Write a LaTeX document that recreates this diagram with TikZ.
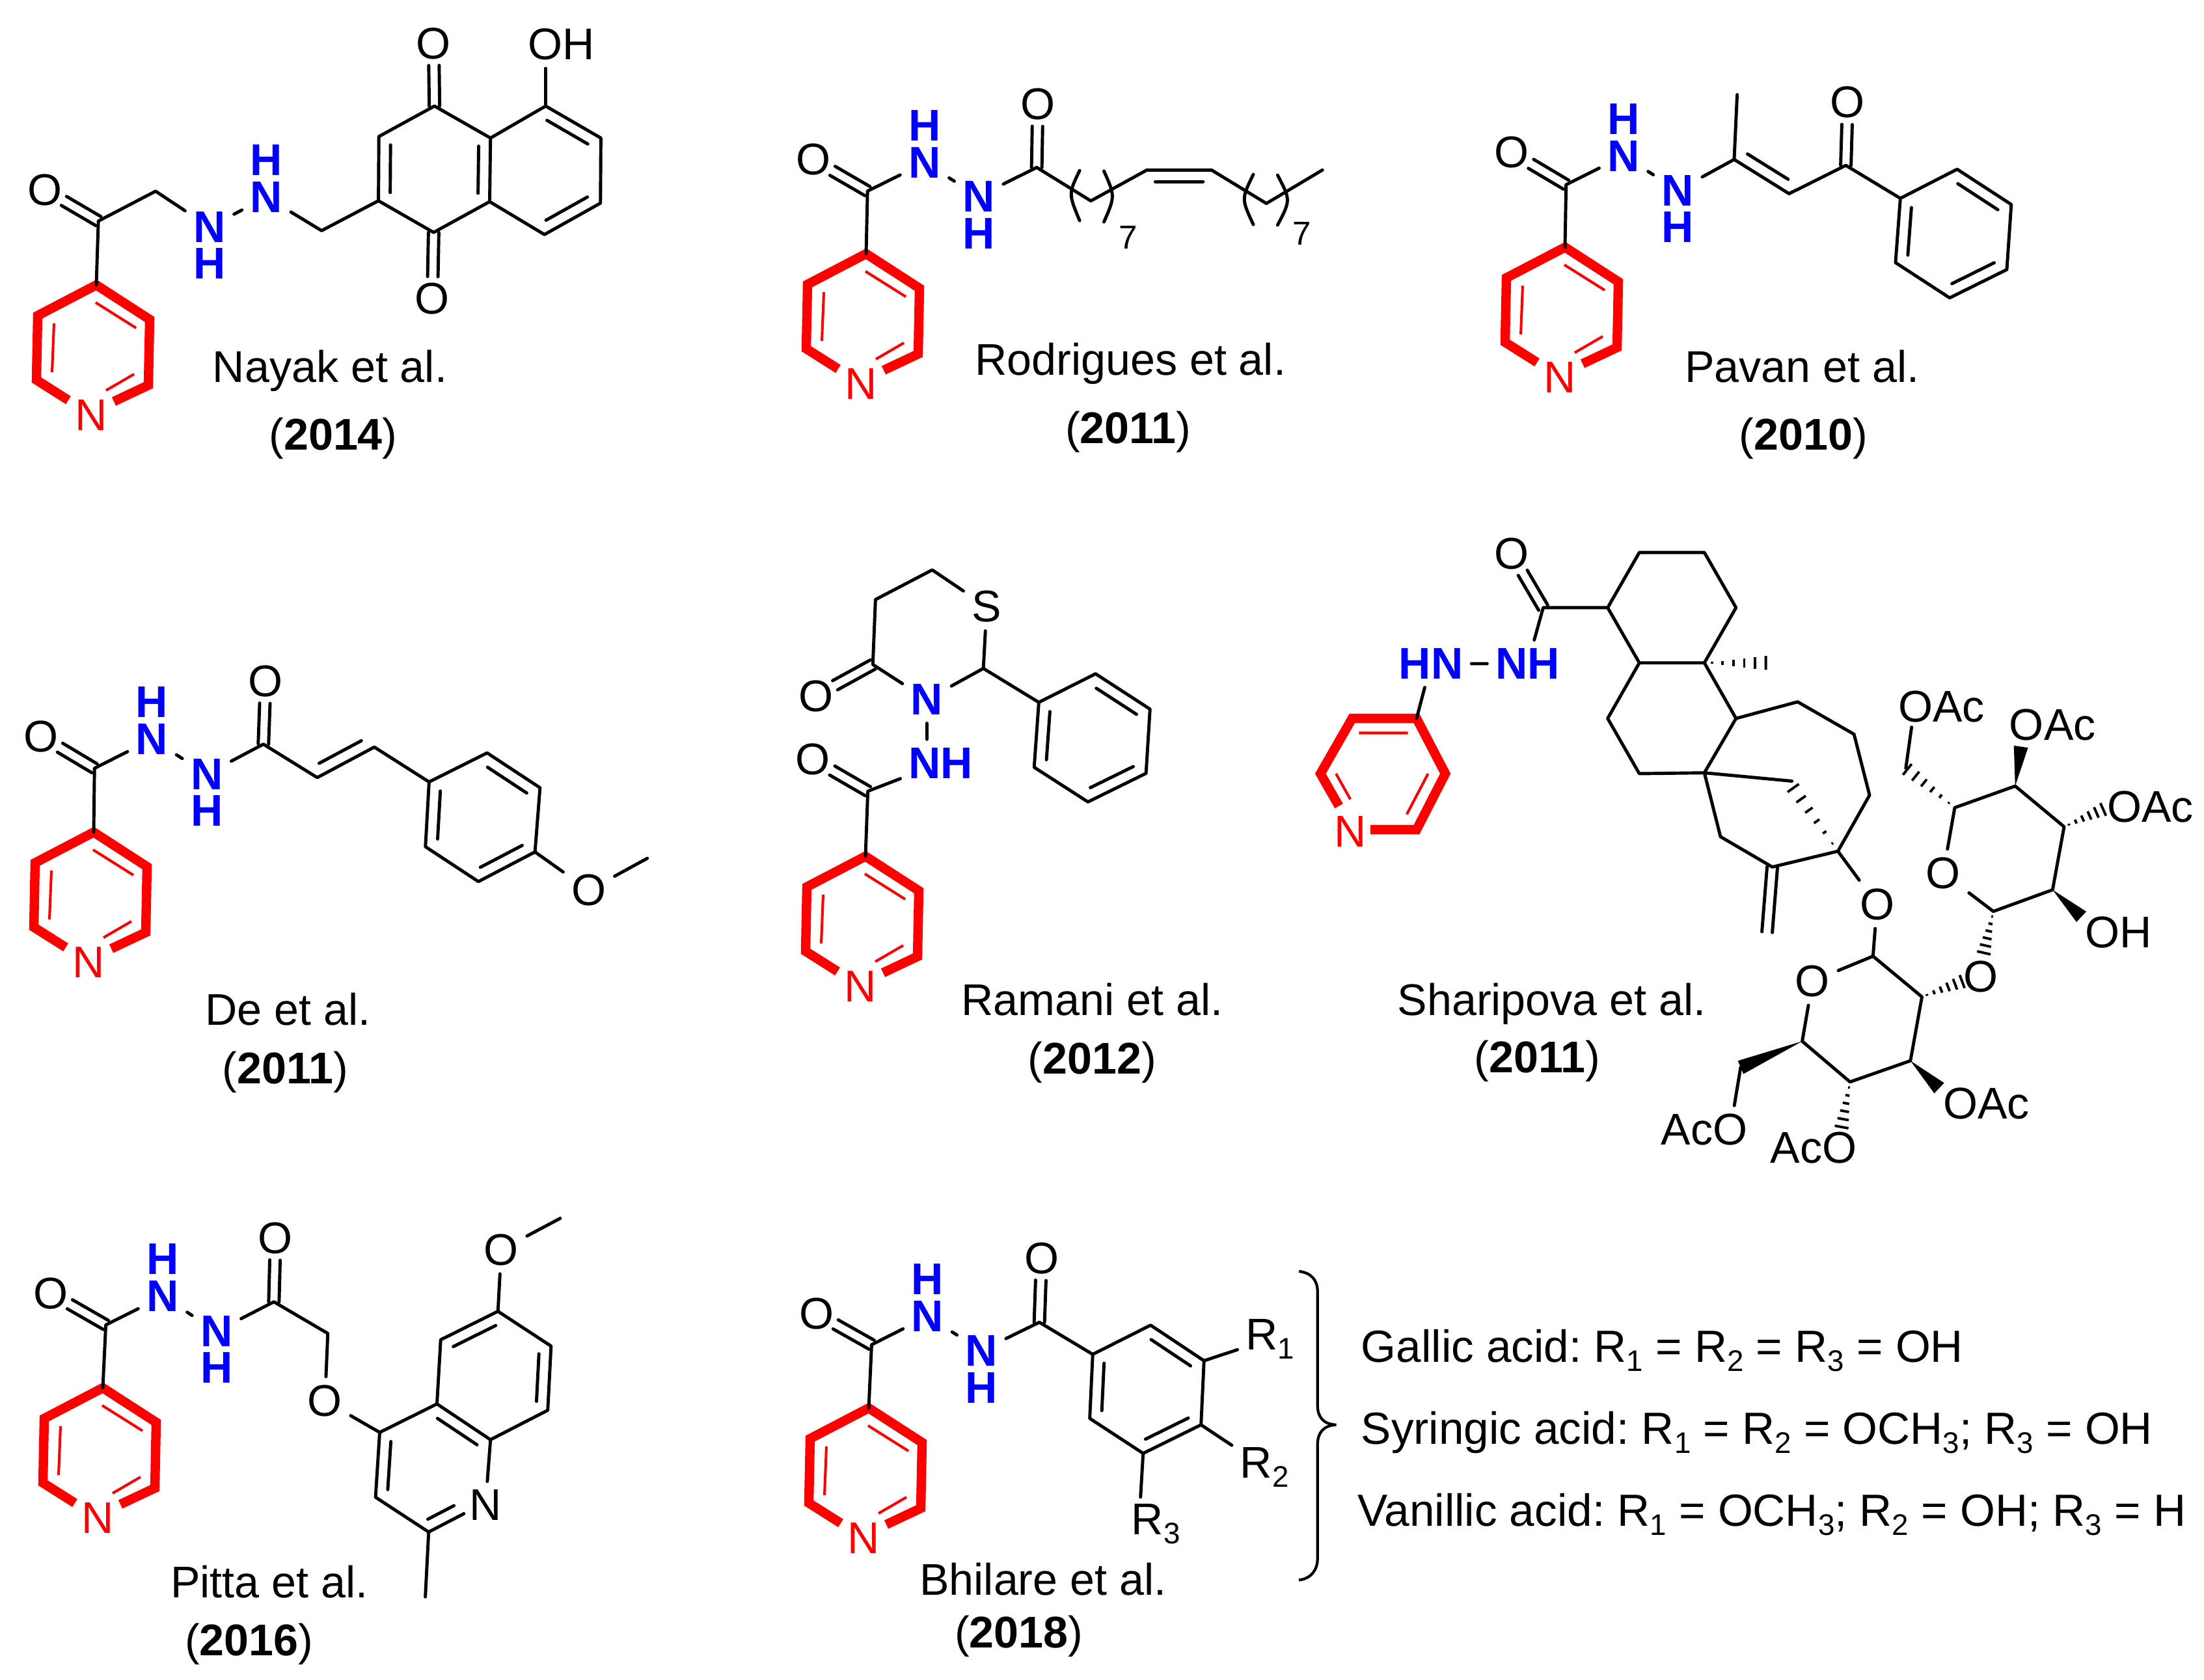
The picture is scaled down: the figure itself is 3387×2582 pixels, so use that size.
\documentclass[tikz,border=0pt]{standalone}
\usepackage{fontspec}
\setmainfont{Liberation Sans}
\usetikzlibrary{calc}

\definecolor{hnblue}{RGB}{0,0,255}
\tikzset{
	crop/.style n args={4}{shift={(#1,#2)},x={#3/1568*.01cm},y={-#4/1568*.01cm}},
	bond/.style={line width=1.4pt,line cap=round,line join=round},
	hatch/.style={line width=1.1pt},
	brace/.style={line width=1.2pt},
	pyrthick/.style={draw=red,line width=4.1pt,line join=miter},
	pyrthin/.style={draw=red,line width=1.15pt},
	oxo/.style={shorten >=.34cm},
	atom/.style={inner sep=3.5pt,font=\fontsize{19.4}{21}\selectfont},
	hn/.style={atom,inner ysep=.8pt,text=hnblue,font=\fontsize{19.4}{21}\selectfont\bfseries},
	ringn/.style={atom,text=red},
	cite/.style={anchor=base,inner sep=0pt,font=\frenchspacing\fontsize{19.4}{21}\selectfont},
	repeats/.style={inner sep=0pt,font=\fontsize{14.5}{16}\selectfont},
	acid/.style={anchor=base west,inner sep=0pt,font=\frenchspacing\fontsize{19.7}{21}\selectfont}
}
\newcommand\sbs[1]{\raisebox{-4pt}{\fontsize{13}{14}\selectfont #1}}
\newcommand\dbond[3][]{\draw[bond,#1] ($(#2)!.08cm!90:(#3)$) -- ($(#3)!.08cm!-90:(#2)$);
	\draw[bond,#1] ($(#2)!.08cm!-90:(#3)$) -- ($(#3)!.08cm!90:(#2)$);}
\newcommand\ibond[3]{\draw[bond] ($($(#1)!.13!(#2)$)!.18cm!#3:(#2)$) -- ($($(#2)!.13!(#1)$)!.18cm!-#3:(#1)$);}
\newcommand\wedgebond[2]{\fill ($(#2)!.11cm!90:(#1)$) -- (#1) -- ($(#2)!.11cm!-90:(#1)$) -- cycle;}
\newcommand\hashbond[2]{\foreach \t in {.12,.29,.46,.63,.8,.97}{\pgfmathsetmacro\hw{\t*.11}
	\coordinate (hc) at ($(#1)!\t!(#2)$);
	\draw[hatch] ($(hc)!\hw cm!90:(#2)$) -- ($(hc)!\hw cm!-90:(#2)$);}}
\newcommand\pyridine[2]{\begin{scope}[shift={(#2)}]
	\coordinate (#1) at (0,0);
	\coordinate (#1a) at (-90,47);
	\coordinate (#1b) at (-92,146);
	\coordinate (#1c) at (80,154);
	\coordinate (#1d) at (82,53);
	\coordinate (#1e) at (-43,177);
	\coordinate (#1f) at (27,179);
	\node[ringn] (#1N) at (-8,200) {N};
	\draw[pyrthick] (#1e) -- (#1b) -- (#1a) -- (#1) -- (#1d) -- (#1c) -- (#1f);
	\draw[pyrthin] (-1,27) -- (61,66) (-65,59) -- (-68,134) (15,162) -- (58,137);
\end{scope}}

\begin{document}
\begin{tikzpicture}[x=.01cm,y=-.01cm]
	\useasboundingbox (0,0) rectangle (3387,2582);

	\pyridine{aPy}{148,438}
	\begin{scope}[crop={0}{0}{1000}{720}]
		\node[atom] (aO1) at (108,635) {O};
		\node[atom] (aO2) at (1045,145) {O};
		\node[atom] (aO3) at (1042,1000) {O};
		\node[atom] (aOH) at (1352,148) {OH};
		\node[hn] (aN1) at (505,760) {N};
		\node[hn,inner sep=0pt] (aH1) at (505,882) {H};
		\node[hn] (aN2) at (642,660) {N};
		\node[hn,inner sep=0pt] (aH2) at (642,536) {H};
		\coordinate (aCa) at (237,740);
		\coordinate (aCb) at (375,640);
		\coordinate (aCc) at (775,772);
		\coordinate (aC1) at (912,672);
		\coordinate (aC2) at (913,457);
		\coordinate (aC3) at (1047,355);
		\coordinate (aC4) at (1182,462);
		\coordinate (aC5) at (1180,675);
		\coordinate (aC6) at (1045,778);
		\coordinate (aC7) at (1315,355);
		\coordinate (aC8) at (1448,462);
		\coordinate (aC9) at (1447,680);
		\coordinate (aC10) at (1312,785);
		\draw[bond] (aPy) -- (aCa) -- (aCb) -- (aN1) -- (aN2) -- (aCc) -- (aC1) -- (aC2) -- (aC3) -- (aC4) -- (aC5) -- (aC6) -- (aC1);
		\draw[bond] (aC4) -- (aC7) -- (aC8) -- (aC9) -- (aC10) -- (aC5);
		\draw[bond] (aC7) -- (aC7 |- aOH.south);
		\dbond[oxo]{aCa}{aO1}
		\dbond[oxo]{aC3}{aO2}
		\dbond[oxo]{aC6}{aO3}
		\ibond{aC1}{aC2}{-90}
		\ibond{aC5}{aC4}{90}
		\ibond{aC7}{aC8}{-90}
		\ibond{aC9}{aC10}{-90}
		\node[cite] (aRef) at (795,1280) {Nayak et al.};
		\node[cite] (aYear) at (803,1505) {(\textbf{2014})};
	\end{scope}

	\pyridine{bPy}{1331,390}
	\begin{scope}[crop={1200}{100}{900}{620}]
		\node[atom] (bO1) at (87,368) {O};
		\node[atom] (bO2) at (688,152) {O};
		\node[hn] (bN1) at (385,380) {N};
		\node[hn,inner sep=0pt] (bH1) at (385,235) {H};
		\node[hn] (bN2) at (530,510) {N};
		\node[hn,inner sep=0pt] (bH2) at (530,655) {H};
		\coordinate (bCa) at (232,490);
		\coordinate (bCb) at (685,398);
		\coordinate (bC1) at (830,528);
		\coordinate (bC2) at (980,408);
		\coordinate (bC3) at (1153,408);
		\coordinate (bC4) at (1300,538);
		\coordinate (bC5) at (1450,408);
		\draw[bond] (bPy) -- (bCa) -- (bN1) -- (bN2) -- (bCb) -- (bC1) -- (bC2) -- (bC3) -- (bC4) -- (bC5);
		\dbond[oxo]{bCa}{bO1}
		\dbond[oxo]{bCb}{bO2}
		\ibond{bC2}{bC3}{-90}
		\draw[bond] (800,410) .. controls (770,500) .. (800,605);
		\draw[bond] (865,412) .. controls (895,510) .. (865,610);
		\draw[bond] (1265,425) .. controls (1233,520) .. (1265,620);
		\draw[bond] (1330,428) .. controls (1365,525) .. (1330,622);
		\node[repeats] (bRep1) at (930,670) {7};
		\node[repeats] (bRep2) at (1395,655) {7};
		\node[cite] (bRef) at (936,1205) {Rodrigues et al.};
		\node[cite] (bYear) at (930,1470) {(\textbf{2011})};
	\end{scope}

	\pyridine{cPy}{2405,380}
	\begin{scope}[crop={2250}{100}{900}{620}]
		\node[atom] (cO1) at (128,340) {O};
		\node[atom] (cO2) at (1027,145) {O};
		\node[hn] (cN1) at (427,353) {N};
		\node[hn,inner sep=0pt] (cH1) at (427,209) {H};
		\node[hn] (cN2) at (572,487) {N};
		\node[hn,inner sep=0pt] (cH2) at (572,631) {H};
		\coordinate (cCa) at (273,465);
		\coordinate (cCb) at (723,367);
		\coordinate (cMe) at (731,115);
		\coordinate (cCc) at (870,500);
		\coordinate (cCd) at (1022,390);
		\coordinate (cP1) at (1168,518);
		\coordinate (cP2) at (1320,405);
		\coordinate (cP3) at (1465,542);
		\coordinate (cP4) at (1453,795);
		\coordinate (cP5) at (1300,905);
		\coordinate (cP6) at (1155,768);
		\draw[bond] (cPy) -- (cCa) -- (cN1) -- (cN2) -- (cCb) -- (cCc) -- (cCd) -- (cP1) -- (cP2) -- (cP3) -- (cP4) -- (cP5) -- (cP6) -- (cP1);
		\draw[bond] (cCb) -- (cMe);
		\dbond[oxo]{cCa}{cO1}
		\dbond[oxo]{cCd}{cO2}
		\ibond{cCb}{cCc}{90}
		\ibond{cP2}{cP3}{-90}
		\ibond{cP4}{cP5}{-90}
		\ibond{cP6}{cP1}{-90}
		\node[cite] (cRef) at (905,1233) {Pavan et al.};
		\node[cite] (cYear) at (908,1497) {(\textbf{2010})};
	\end{scope}

	\pyridine{dPy}{144,1279}
	\begin{scope}[crop={0}{1000}{1100}{700}]
		\node[atom] (dO1) at (90,295) {O};
		\node[atom] (dO2) at (582,105) {O};
		\node[atom] (dO3) at (1290,825) {O};
		\node[hn] (dN1) at (333,305) {N};
		\node[hn,inner sep=0pt] (dH1) at (333,178) {H};
		\node[hn] (dN2) at (453,425) {N};
		\node[hn,inner sep=0pt] (dH2) at (453,552) {H};
		\coordinate (dCa) at (207,405);
		\coordinate (dCb) at (577,322);
		\coordinate (dCc) at (695,437);
		\coordinate (dCd) at (820,332);
		\coordinate (dP1) at (940,452);
		\coordinate (dP2) at (1067,352);
		\coordinate (dP3) at (1183,472);
		\coordinate (dP4) at (1172,693);
		\coordinate (dP5) at (1048,795);
		\coordinate (dP6) at (932,675);
		\coordinate (dMe) at (1418,715);
		\draw[bond] (dPy) -- (dCa) -- (dN1) -- (dN2) -- (dCb) -- (dCc) -- (dCd) -- (dP1) -- (dP2) -- (dP3) -- (dP4) -- (dP5) -- (dP6) -- (dP1);
		\draw[bond] (dP4) -- (dO3) -- (dMe);
		\dbond[oxo]{dCa}{dO1}
		\dbond[oxo]{dCb}{dO2}
		\ibond{dCc}{dCd}{90}
		\ibond{dP2}{dP3}{-90}
		\ibond{dP4}{dP5}{-90}
		\ibond{dP6}{dP1}{-90}
		\node[cite] (dRef) at (631,1290) {De et al.};
		\node[cite] (dYear) at (625,1490) {(\textbf{2011})};
	\end{scope}

	\pyridine{ePy}{1330,1316}
	\begin{scope}[crop={1200}{820}{800}{860}]
		\node[atom] (eO1) at (105,455) {O};
		\node[atom] (eO2) at (97,633) {O};
		\node[atom] (eS) at (620,205) {S};
		\node[hn,inner ysep=3.5pt] (eN) at (440,465) {N};
		\node[hn,inner ysep=3.5pt] (eNH) at (482,643) {NH};
		\coordinate (eR1) at (277,367);
		\coordinate (eR2) at (285,185);
		\coordinate (eR3) at (456,102);
		\coordinate (eR5) at (610,378);
		\coordinate (eCa) at (262,722);
		\coordinate (eP1) at (777,473);
		\coordinate (eP2) at (948,393);
		\coordinate (eP3) at (1112,492);
		\coordinate (eP4) at (1100,672);
		\coordinate (eP5) at (925,752);
		\coordinate (eP6) at (763,655);
		\draw[bond] (eN) -- (eR1) -- (eR2) -- (eR3) -- (eS) -- (eR5) -- (eN);
		\draw[bond] (eR5) -- (eP1) -- (eP2) -- (eP3) -- (eP4) -- (eP5) -- (eP6) -- (eP1);
		\draw[bond] (eN) -- (eN |- eNH.north);
		\draw[bond] (eNH) -- (eCa) -- (ePy);
		\dbond[oxo]{eR1}{eO1}
		\dbond[oxo]{eCa}{eO2}
		\ibond{eP2}{eP3}{-90}
		\ibond{eP4}{eP5}{-90}
		\ibond{eP6}{eP1}{-90}
		\node[cite] (eRef) at (938,1350) {Ramani et al.};
		\node[cite] (eYear) at (938,1515) {(\textbf{2012})};
	\end{scope}

	\begin{scope}[crop={2000}{800}{1387}{1000}]
		\coordinate (fPa) at (88,477);
		\coordinate (fPb) at (200,477);
		\coordinate (fPc) at (250,610);
		\coordinate (fPd) at (200,745);
		\coordinate (fPe) at (120,745);
		\coordinate (fPf) at (33,610);
		\coordinate (fPg) at (65,688);
		\node[ringn] (fPN) at (85,750) {N};
		\draw[pyrthick] (fPg) -- (fPf) -- (fPa) -- (fPb) -- (fPc) -- (fPd) -- (fPe);
		\draw[pyrthin] (100,512) -- (185,512) (220,610) -- (183,708) (60,610) -- (85,672);
		\node[hn,inner ysep=3.5pt] (fHN) at (225,345) {HN};
		\node[hn,inner ysep=3.5pt] (fNH) at (393,345) {NH};
		\node[atom] (fO1) at (365,80) {O};
		\coordinate (fCa) at (420,210);
		\coordinate (fC1) at (532,210);
		\coordinate (fC2) at (587,77);
		\coordinate (fC3) at (700,77);
		\coordinate (fC4) at (755,210);
		\coordinate (fC5) at (700,343);
		\coordinate (fC6) at (587,343);
		\coordinate (fC7) at (532,477);
		\coordinate (fC8) at (587,610);
		\coordinate (fC9) at (700,608);
		\coordinate (fC10) at (755,477);
		\coordinate (fC11) at (862,437);
		\coordinate (fC12) at (960,515);
		\coordinate (fC13) at (987,662);
		\coordinate (fC14) at (932,797);
		\coordinate (fC15) at (818,835);
		\coordinate (fC16) at (728,762);
		\coordinate (fC17) at (852,628);
		\coordinate (fC17e) at (852,640);
		\coordinate (fMe) at (810,343);
		\coordinate (fCH) at (809,992);
		\draw[bond] (fPb) -- (fHN) -- (fNH) -- (fCa) -- (fC1) -- (fC2) -- (fC3) -- (fC4) -- (fC5) -- (fC6) -- (fC1);
		\draw[bond] (fC6) -- (fC7) -- (fC8) -- (fC9) -- (fC10) -- (fC5);
		\draw[bond] (fC10) -- (fC11) -- (fC12) -- (fC13) -- (fC14) -- (fC15) -- (fC16) -- (fC9) -- (fC17);
		\dbond[oxo]{fCa}{fO1}
		\dbond{fC15}{fCH}
		\hashbond{fC5}{fMe}
		\hashbond{fC14}{fC17e}
		\node[atom] (fO2) at (1000,925) {O};
		\node[atom] (fRO1) at (888,1110) {O};
		\node[atom] (fO3) at (1180,1100) {O};
		\node[atom] (fRO2) at (1115,850) {O};
		\coordinate (fG1) at (993,1050);
		\coordinate (fG2) at (870,1255);
		\coordinate (fG3) at (953,1353);
		\coordinate (fG4) at (1058,1302);
		\coordinate (fG5) at (1078,1148);
		\coordinate (fG6) at (763,1318);
		\coordinate (fH1) at (1202,942);
		\coordinate (fH2) at (1135,692);
		\coordinate (fH3) at (1240,640);
		\coordinate (fH4) at (1325,738);
		\coordinate (fH5) at (1305,890);
		\coordinate (fH6) at (1050,597);
		\draw[bond] (fC14) -- (fO2) -- (fG1) -- (fRO1) -- (fG2) -- (fG3) -- (fG4) -- (fG5) -- (fG1);
		\draw[bond] (fH1) -- (fRO2) -- (fH2) -- (fH3) -- (fH4) -- (fH5) -- (fH1);
		\node[atom,inner sep=0pt] (fAc1) at (700,1468) {AcO};
		\node[atom,inner sep=0pt] (fAc2) at (890,1512) {AcO};
		\node[atom,inner sep=0pt] (fAc3) at (1190,1405) {OAc};
		\node[atom,inner sep=0pt] (fAc4) at (1112,448) {OAc};
		\node[atom,inner sep=0pt] (fAc5) at (1305,492) {OAc};
		\node[atom,inner sep=0pt] (fAc6) at (1475,690) {OAc};
		\node[atom,inner sep=0pt] (fOH) at (1420,993) {OH};
		\coordinate (fG6e) at (752,1410);
		\coordinate (fG3e) at (938,1465);
		\coordinate (fG4e) at (1108,1368);
		\coordinate (fG5e) at (1150,1110);
		\coordinate (fH1e) at (1185,1045);
		\coordinate (fH3e) at (1250,545);
		\coordinate (fH4e) at (1395,695);
		\coordinate (fH5e) at (1355,955);
		\coordinate (fH6e) at (1060,498);
		\wedgebond{fG2}{fG6}
		\draw[bond] (fG6) -- (fG6e);
		\draw[bond] (fH6) -- (fH6e);
		\hashbond{fG3}{fG3e}
		\wedgebond{fG4}{fG4e}
		\hashbond{fG5}{fG5e}
		\hashbond{fH1}{fH1e}
		\hashbond{fH2}{fH6}
		\wedgebond{fH3}{fH3e}
		\hashbond{fH4}{fH4e}
		\wedgebond{fH5}{fH5e}
		\node[cite] (fRef) at (435,1192) {Sharipova et al.};
		\node[cite] (fYear) at (410,1330) {(\textbf{2011})};
	\end{scope}

	\pyridine{gPy}{158,2133}
	\begin{scope}[crop={0}{1820}{1000}{762}]
		\node[atom] (gO1) at (122,345) {O};
		\node[atom] (gO2) at (664,170) {O};
		\node[atom] (gO3) at (783,685) {O};
		\node[atom] (gO4) at (1208,207) {O};
		\node[atom] (gQN) at (1170,1015) {N};
		\node[hn] (gN1) at (392,355) {N};
		\node[hn,inner sep=0pt] (gH1) at (392,237) {H};
		\node[hn] (gN2) at (522,465) {N};
		\node[hn,inner sep=0pt] (gH2) at (522,580) {H};
		\coordinate (gCa) at (255,445);
		\coordinate (gCb) at (660,372);
		\coordinate (gCc) at (790,472);
		\coordinate (gQ1) at (915,785);
		\coordinate (gQ2) at (1053,695);
		\coordinate (gQ3) at (1062,492);
		\coordinate (gQ4) at (1200,402);
		\coordinate (gQ5) at (1328,512);
		\coordinate (gQ6) at (1320,715);
		\coordinate (gQ7) at (1182,808);
		\coordinate (gQ8) at (1033,1100);
		\coordinate (gQ9) at (905,990);
		\coordinate (gQe) at (1118,1042);
		\coordinate (gMe1) at (1350,108);
		\coordinate (gMe2) at (1025,1305);
		\draw[bond] (gPy) -- (gCa) -- (gN1) -- (gN2) -- (gCb) -- (gCc) -- (gO3) -- (gQ1) -- (gQ2) -- (gQ3) -- (gQ4) -- (gQ5) -- (gQ6) -- (gQ7) -- (gQ2);
		\draw[bond] (gQ7) -- (gQN);
		\draw[bond] (gQe) -- (gQ8) -- (gQ9) -- (gQ1);
		\draw[bond] (gQ4) -- (gO4) -- (gMe1);
		\draw[bond] (gQ8) -- (gMe2);
		\dbond[oxo]{gCa}{gO1}
		\dbond[oxo]{gCb}{gO2}
		\ibond{gQ3}{gQ4}{-90}
		\ibond{gQ5}{gQ6}{-90}
		\ibond{gQ2}{gQ7}{-90}
		\ibond{gQ9}{gQ1}{-90}
		\ibond{gQ8}{gQe}{90}
		\node[cite] (gRef) at (649,1308) {Pitta et al.};
		\node[cite] (gYear) at (600,1490) {(\textbf{2016})};
	\end{scope}

	\pyridine{hPy}{1335,2164}
	\begin{scope}[crop={1200}{1880}{900}{702}]
		\node[atom] (hO1) at (95,310) {O};
		\node[atom] (hO2) at (698,120) {O};
		\node[hn] (hN1) at (393,320) {N};
		\node[hn,inner sep=0pt] (hH1) at (393,192) {H};
		\node[hn] (hN2) at (537,437) {N};
		\node[hn,inner sep=0pt] (hH2) at (537,565) {H};
		\node[atom] (hR1) at (1310,397) {R\sbs{1}};
		\node[atom] (hR2) at (1295,837) {R\sbs{2}};
		\node[atom,inner sep=0pt] (hR3) at (1004,1032) {R\sbs{3}};
		\coordinate (hCa) at (243,417);
		\coordinate (hCb) at (692,340);
		\coordinate (hP1) at (835,450);
		\coordinate (hP2) at (990,350);
		\coordinate (hP3) at (1133,472);
		\coordinate (hP4) at (1125,692);
		\coordinate (hP5) at (970,790);
		\coordinate (hP6) at (827,670);
		\coordinate (hR3e) at (963,940);
		\draw[bond] (hPy) -- (hCa) -- (hN1) -- (hN2) -- (hCb) -- (hP1) -- (hP2) -- (hP3) -- (hP4) -- (hP5) -- (hP6) -- (hP1);
		\draw[bond] (hP3) -- (hR1);
		\draw[bond] (hP4) -- (hR2);
		\draw[bond] (hP5) -- (hR3e);
		\dbond[oxo]{hCa}{hO1}
		\dbond[oxo]{hCb}{hO2}
		\ibond{hP2}{hP3}{-90}
		\ibond{hP4}{hP5}{-90}
		\ibond{hP6}{hP1}{-90}
		\node[cite] (hRef) at (702,1277) {Bhilare et al.};
		\node[cite] (hYear) at (637,1458) {(\textbf{2018})};
		\draw[brace] (1387,165) .. controls (1420,170) and (1437,195) .. (1437,235) -- (1437,625) .. controls (1437,665) and (1452,690) .. (1487,692) .. controls (1452,694) and (1437,720) .. (1437,760) -- (1437,1150) .. controls (1437,1190) and (1420,1220) .. (1387,1225);
	\end{scope}

	\begin{scope}[crop={2000}{1920}{1387}{540}]
		\node[acid] (iGallic) at (103,505) {Gallic acid: R\sbs{1} = R\sbs{2} = R\sbs{3} = OH};
		\node[acid] (iSyringic) at (103,870) {Syringic acid: R\sbs{1} = R\sbs{2} = OCH\sbs{3}; R\sbs{3} = OH};
		\node[acid] (iVanillic) at (97,1235) {Vanillic acid: R\sbs{1} = OCH\sbs{3}; R\sbs{2} = OH; R\sbs{3} = H};
	\end{scope}
\end{tikzpicture}
\end{document}
